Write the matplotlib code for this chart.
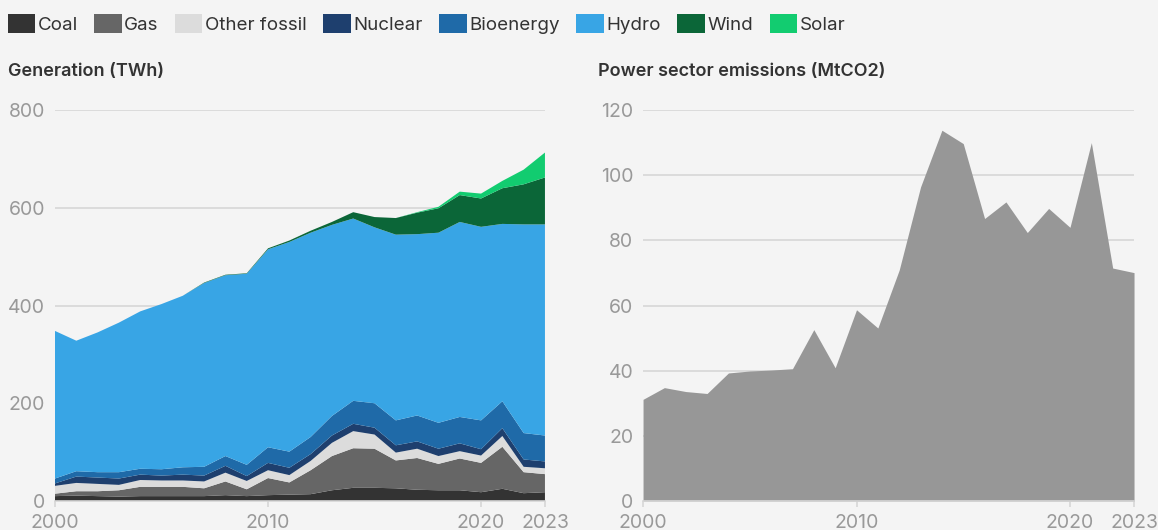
import numpy as np
import matplotlib.pyplot as plt
from matplotlib.patches import Patch

plt.rcParams['font.family'] = ['Inter', 'DejaVu Sans']

#---------- data

years = list(range(2000, 2024))

coal = [10, 11, 10, 9, 10, 10, 10, 10, 12, 10, 12, 13, 14, 22, 27, 27, 26, 23, 22, 22, 18, 25, 16, 18]
gas = [5, 9, 10, 13, 19, 19, 19, 16, 28, 14, 35, 25, 49, 70, 81, 80, 57, 65, 54, 65, 60, 86, 43, 37]
other_fossil = [16, 17, 15, 11, 14, 13, 13, 14, 18, 17, 16, 15, 19, 27, 35, 29, 16, 19, 16, 15, 15, 22, 11, 12]
nuclear = [5, 13, 13, 13, 11, 10, 12, 12, 14, 10, 15, 15, 14, 15, 15, 14, 15, 15, 15, 16, 13, 16, 15, 14]
bioenergy = [10, 11, 11, 13, 12, 13, 15, 18, 20, 23, 32, 33, 35, 40, 47, 50, 51, 53, 53, 54, 59, 55, 54, 53]
hydro = [302, 267, 286, 306, 322, 338, 351, 376, 370, 391, 405, 429, 418, 391, 373, 360, 380, 371, 389, 399, 396, 363, 427, 432]
wind = [0, 0, 0, 0, 0, 0, 0, 1, 1, 1, 2, 3, 4, 6, 13, 21, 34, 44, 50, 55, 58, 73, 82, 96]
solar = [0, 0, 0, 0, 0, 0, 0, 0, 0, 0, 0, 0, 0, 0, 0, 0, 0, 1, 3, 7, 10, 15, 30, 51]

emissions = [31.2, 34.8, 33.6, 33.0, 39.3, 39.9, 40.2, 40.6, 52.6, 40.9, 58.7, 53.1,
             70.9, 96.4, 113.8, 109.7, 86.7, 91.8, 82.4, 89.8, 84.0, 110.0, 71.5, 70.1]

labels = ['Coal', 'Gas', 'Other fossil', 'Nuclear', 'Bioenergy', 'Hydro', 'Wind', 'Solar']
colors = ['#333333', '#666666', '#dcdcdc', '#1e3f6e', '#1f6aa8', '#38a5e5', '#0b6638', '#12cc70']

xticks = [2000, 2010, 2020, 2023]

#---------- plot

bg = '#f4f4f4'
grid_c = '#d6d6d6'
tick_c = '#999999'

fig = plt.figure(figsize=(11.58, 5.30), dpi=100, facecolor=bg)
ax1 = fig.add_axes([0.0475, 0.0547, 0.4231, 0.7377])
ax2 = fig.add_axes([0.5553, 0.0547, 0.4240, 0.7377])

ax1.stackplot(years, coal, gas, other_fossil, nuclear, bioenergy, hydro, wind, solar,
              colors=colors, linewidth=0, zorder=2)
ax2.fill_between(years, 0, emissions, color='#979797', linewidth=0, zorder=2)

for ax, ylim, yt in [(ax1, 800, [0, 200, 400, 600, 800]), (ax2, 120, [0, 20, 40, 60, 80, 100, 120])]:
    ax.set_facecolor(bg)
    ax.set_xlim(2000, 2023)
    ax.set_ylim(0, ylim)
    ax.set_yticks(yt)
    ax.set_xticks(xticks)
    ax.grid(axis='y', color=grid_c, linewidth=1.2, zorder=1)
    for s in ['top', 'right', 'left']:
        ax.spines[s].set_visible(False)
    ax.spines['bottom'].set_color(grid_c)
    ax.spines['bottom'].set_linewidth(1.2)
    ax.tick_params(axis='y', length=0, pad=7, labelsize=14, labelcolor=tick_c)
    ax.tick_params(axis='x', length=4, width=1.2, color=grid_c, pad=5, labelsize=14, labelcolor=tick_c)

fig.text(0.007, 0.865, 'Generation (TWh)', fontsize=13, fontweight='semibold', color='#333333', va='center')
fig.text(0.516, 0.865, 'Power sector emissions (MtCO2)', fontsize=13, fontweight='semibold', color='#333333', va='center')

handles = [Patch(facecolor=c, edgecolor='none') for c in colors]
fig.legend(handles, labels, loc='upper left', bbox_to_anchor=(-0.008, 1.005), ncol=8,
           frameon=False, fontsize=13.5, handlelength=1.45, handleheight=1.2,
           handletextpad=0.15, columnspacing=0.88, labelcolor='#333333')

plt.savefig('out.png', dpi=100, facecolor=bg)
plt.close()
